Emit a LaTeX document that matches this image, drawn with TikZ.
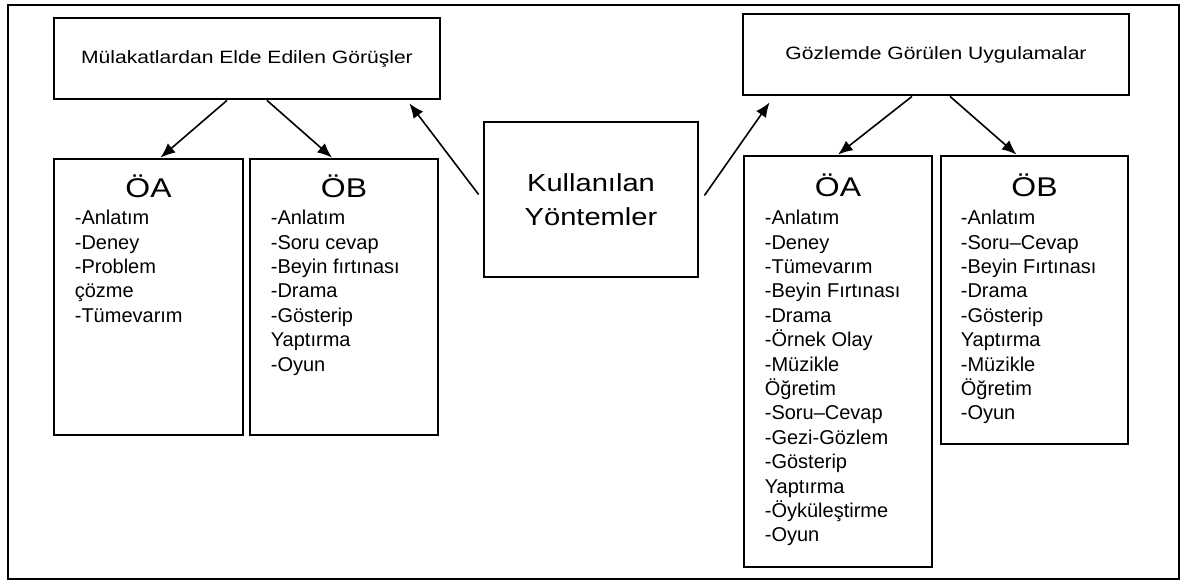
\documentclass[tikz,border=0pt]{standalone}
\usepackage{fontspec}
\setmainfont{Liberation Sans}
\newfontfamily\headfont{Liberation Sans}[FakeStretch=1.18]
\usetikzlibrary{arrows.meta,calc,positioning}
\tikzset{
  arr/.style={-{Latex[length=11pt,width=9pt]}, line width=1.2pt, draw=black},
  frame/.style={draw=black, line width=1.6pt},
  titlebox/.style={draw=black, line width=2.1pt, fill=white, minimum width=289.5pt, minimum height=60.75pt, inner sep=0pt, font=\headfont\fontsize{13.4}{15}\selectfont},
  methbox/.style={draw=black, line width=2.1pt, fill=white, minimum width=160.5pt, minimum height=116.25pt, inner sep=0pt, align=center, font=\headfont\fontsize{18.5}{25.5}\selectfont},
  listbox/.style={draw=black, line width=2.1pt, fill=white, inner sep=0pt},
  head/.style={anchor=base, inner sep=0pt, font=\headfont\fontsize{20.3}{24}\selectfont},
  item/.style={anchor=base west, inner sep=0pt, font=\fontsize{15}{18}\selectfont}
}
\begin{document}
\begin{tikzpicture}[x=0.75pt,y=-0.75pt]
  \useasboundingbox (0,0) rectangle (1181,581);
  \draw[frame] (8,5) rectangle (1179,579);
  % top boxes and the middle one
  \node[titlebox] (mulakat) at (247,58.5) {Mülakatlardan Elde Edilen Görüşler};
  \node[titlebox] (gozlem) at (936,54.5) {Gözlemde Görülen Uygulamalar};
  \node[methbox] (yontem) at (591,199.5) {Kullanılan\\Yöntemler};
  % lists
  \node[listbox, minimum width=141.75pt, minimum height=207pt] (loa) at (148.5,297) {};
  \node[listbox, minimum width=141pt, minimum height=207pt] (lob) at (344,297) {};
  \node[listbox, minimum width=141pt, minimum height=308.25pt] (roa) at (838,361.5) {};
  \node[listbox, minimum width=140.25pt, minimum height=216pt] (rob) at (1034.5,300) {};
  \node[head] (loa-h) at ($(loa.north)+(0,40)$) {ÖA};
  \node[head] (lob-h) at ($(lob.north)+(0,40)$) {ÖB};
  \node[head] (roa-h) at ($(roa.north)+(0,42)$) {ÖA};
  \node[head] (rob-h) at ($(rob.north)+(0,42)$) {ÖB};
  \foreach \t [count=\i] in {-Anlatım,-Deney,-Problem,çözme,-Tümevarım}
    \node[item] (loa-\i) at ($(loa.north west)+(22,{67+(\i-1)*24.4})$) {\t};
  \foreach \t [count=\i] in {-Anlatım,-Soru cevap,-Beyin fırtınası,-Drama,-Gösterip,Yaptırma,-Oyun}
    \node[item] (lob-\i) at ($(lob.north west)+(22,{67+(\i-1)*24.4})$) {\t};
  \foreach \t [count=\i] in {-Anlatım,-Deney,-Tümevarım,-Beyin Fırtınası,-Drama,-Örnek Olay,-Müzikle,Öğretim,-Soru–Cevap,-Gezi-Gözlem,-Gösterip,Yaptırma,-Öyküleştirme,-Oyun}
    \node[item] (roa-\i) at ($(roa.north west)+(22,{70+(\i-1)*24.4})$) {\t};
  \foreach \t [count=\i] in {-Anlatım,-Soru–Cevap,-Beyin Fırtınası,-Drama,-Gösterip,Yaptırma,-Müzikle,Öğretim,-Oyun}
    \node[item] (rob-\i) at ($(rob.north west)+(21,{70+(\i-1)*24.4})$) {\t};
  % arrows
  \draw[arr] ($(mulakat.south)+(-20,0)$) -- ($(loa.north)+(12,0)$);
  \draw[arr] ($(mulakat.south)+(20,0)$) -- ($(lob.north)+(-12,0)$);
  \draw[arr] ($(yontem.west)+(-4,-5)$) -- ($(mulakat.south east)+(-32,3)$);
  \draw[arr] ($(yontem.east)+(5,-4)$) -- ($(gozlem.south west)+(28,6)$);
  \draw[arr] ($(gozlem.south)+(-24,0)$) -- (roa.north);
  \draw[arr] ($(gozlem.south)+(14,0)$) -- ($(rob.north)+(-18,0)$);
\end{tikzpicture}
\end{document}
